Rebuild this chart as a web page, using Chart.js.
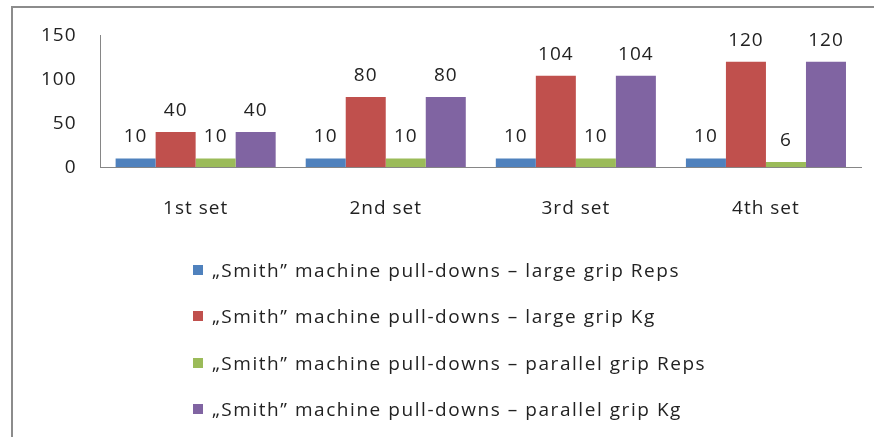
<!DOCTYPE html>
<html>
<head>
<meta charset="utf-8">
<script src="https://cdn.jsdelivr.net/npm/chart.js@4"></script>
<style>
    html, body { margin: 0; padding: 0; background: #fff; overflow: hidden; }
    #frame { position: absolute; left: 11px; top: 6px; width: 861px; height: 429px;
             border-left: 2px solid #8c8c8c; border-top: 2px solid #8c8c8c; }
    #wrap { position: absolute; left: 0; top: 0; width: 874px; height: 250px; }
    #legenda { position: absolute; left: 193px; top: 247px; margin: 0; padding: 0; list-style: none;
               font-family: 'Open Sans', sans-serif; font-size: 19px; color: #222; letter-spacing: 1.55px; }
    #legenda li { height: 46.3px; display: flex; align-items: center; white-space: nowrap; }
    #legenda .caixa { display: inline-block; width: 10px; height: 10px; margin-right: 9px; }
</style>
</head>
<body>
<div id="frame"></div>
<div id="wrap"><canvas id="grafico"></canvas></div>
<ul id="legenda"></ul>
<script>
const categorias = ['1st set', '2nd set', '3rd set', '4th set'];
const nomesSeries = [
    '\u201eSmith\u201d machine pull-downs \u2013 large grip Reps',
    '\u201eSmith\u201d machine pull-downs \u2013 large grip Kg',
    '\u201eSmith\u201d machine pull-downs \u2013 parallel grip Reps',
    '\u201eSmith\u201d machine pull-downs \u2013 parallel grip Kg'
];
const largeReps = [10, 10, 10, 10];
const largeKg = [40, 80, 104, 120];
const parallelReps = [10, 10, 10, 6];
const parallelKg = [40, 80, 104, 120];
const ticksY = [0, 50, 100, 150];
const cores = ['#4F81BD', '#C0504D', '#9BBB59', '#8064A2'];

const series = [largeReps, largeKg, parallelReps, parallelKg];
const fonte = "'Open Sans', sans-serif";

// espaçamento entre letras, pra ficar mais largo como no original
const espacamento = {
    id: 'espacamento',
    beforeUpdate(chart) { chart.ctx.letterSpacing = '1px'; },
    beforeDraw(chart) { chart.ctx.letterSpacing = '1px'; }
};

// escreve os valores em cima das barras
const rotulos = {
    id: 'rotulos',
    afterDatasetsDraw(chart) {
        const ctx = chart.ctx;
        ctx.save();
        ctx.font = '19px ' + fonte;
        ctx.fillStyle = '#222';
        ctx.textAlign = 'center';
        ctx.textBaseline = 'alphabetic';
        chart.data.datasets.forEach((ds, i) => {
            chart.getDatasetMeta(i).data.forEach((bar, j) => {
                ctx.fillText(ds.data[j], bar.x, bar.y - 16);
            });
        });
        ctx.restore();
    }
};

const grafico = new Chart(document.getElementById('grafico'), {
    type: 'bar',
    data: {
        labels: categorias,
        datasets: series.map((s, i) => ({
            label: nomesSeries[i],
            data: s,
            backgroundColor: cores[i],
            borderWidth: 0,
            categoryPercentage: 0.842,
            barPercentage: 1
        }))
    },
    options: {
        responsive: true,
        maintainAspectRatio: false,
        animation: false,
        layout: { padding: { left: 17, right: 13, top: 24, bottom: 0 } },
        plugins: {
            legend: { display: false },
            tooltip: { enabled: false }
        },
        scales: {
            x: {
                grid: { display: false, drawTicks: false },
                border: { display: true, color: '#868686', width: 1 },
                ticks: { color: '#222', padding: 30, font: { family: fonte, size: 19 } }
            },
            y: {
                min: 0,
                max: 150,
                afterBuildTicks: (axis) => { axis.ticks = ticksY.map(v => ({ value: v })); },
                grid: { display: false, drawTicks: false },
                border: { display: true, color: '#868686', width: 1 },
                ticks: { color: '#222', padding: 24, font: { family: fonte, size: 19 } }
            }
        }
    },
    plugins: [espacamento, rotulos]
});

// legenda em html, uma linha por série
const ul = document.getElementById('legenda');
grafico.data.datasets.forEach((ds) => {
    const li = document.createElement('li');
    const caixa = document.createElement('span');
    caixa.className = 'caixa';
    caixa.style.background = ds.backgroundColor;
    li.appendChild(caixa);
    li.appendChild(document.createTextNode(ds.label));
    ul.appendChild(li);
});
</script>
</body>
</html>
